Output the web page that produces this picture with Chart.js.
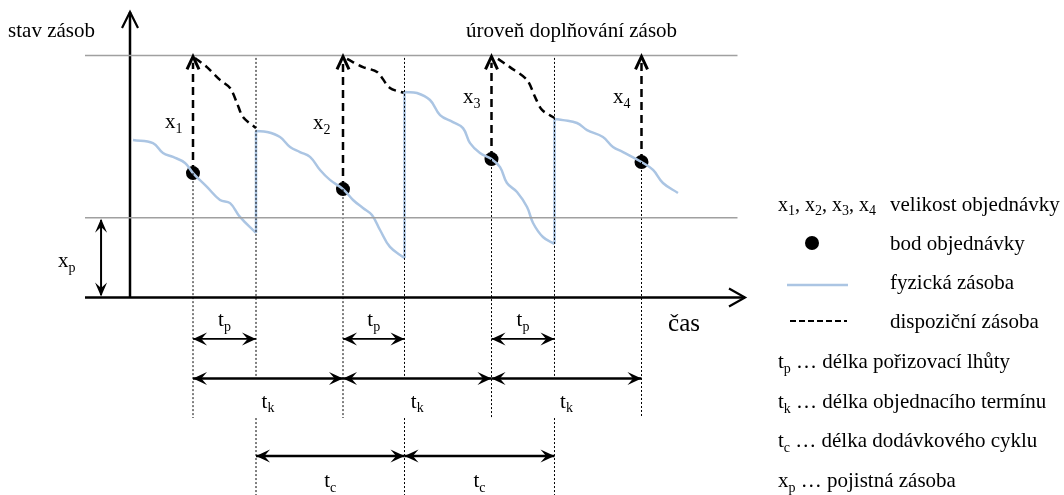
<!DOCTYPE html>
<html>
<head>
<meta charset="utf-8">
<script src="https://cdn.jsdelivr.net/npm/chart.js@4"></script>
<style>
  html, body { margin: 0; padding: 0; background: #fff; }
  #wrap { width: 1064px; height: 495px; }
</style>
</head>
<body>
<div id="wrap"><canvas id="graf"></canvas></div>
<script>
// casy objednavek a dodavek, stav zasoby v bodech objednavky
const casObjednavky = [4.2, 14.2, 24.1, 34.1];
const bodObjednavky = [51.4, 44.8, 57.2, 56.0];
const casDodavky = [8.4, 18.3, 28.3];
const urovenDoplnovani = 100;
const pojistnaZasoba = 33;

// fyzicka zasoba - jednotlive useky mezi dodavkami
const fyzicka1 = [[0.2, 65.1], [1.53, 63.8], [2.2, 59.7], [2.87, 58.1], [3.67, 55.6], [4.2, 51.4],
  [5.13, 45.7], [6.0, 40.3], [6.67, 39.0], [7.33, 33.3], [8.4, 26.7]];
const fyzicka2 = [[8.4, 68.8], [9.13, 68.4], [10.0, 66.3], [10.67, 62.2], [11.33, 60.1], [12.0, 58.1],
  [12.67, 52.7], [13.33, 48.6], [14.2, 44.8], [14.87, 40.3], [15.53, 37.0], [16.13, 34.1],
  [16.67, 27.9], [17.33, 20.9], [18.3, 16.3]];
const fyzicka3 = [[18.3, 84.9], [19.13, 84.5], [20.0, 81.6], [20.67, 75.4], [21.53, 72.5], [22.2, 70.0],
  [22.67, 63.8], [23.33, 59.7], [24.1, 57.2], [24.67, 53.9], [25.13, 47.3], [25.8, 43.6],
  [26.47, 37.4], [26.87, 30.8], [27.53, 25.0], [28.3, 22.1]];
const fyzicka4 = [[28.3, 73.8], [28.87, 73.3], [29.8, 72.1], [30.47, 69.2], [31.53, 66.3], [32.2, 62.2],
  [32.87, 60.1], [34.1, 56.0], [34.87, 52.7], [35.53, 47.3], [36.53, 43.2]];

// dispozicni zasoba
const dispozicni1 = [[4.33, 99], [5.13, 95.2], [6.0, 89.9], [6.67, 86.6], [7.13, 80.4], [7.53, 74.6], [8.4, 70.0]];
const dispozicni2 = [[14.47, 98.6], [15.53, 95.2], [16.47, 93.2], [17.33, 86.6], [18.3, 84.5]];
const dispozicni3 = [[24.53, 98.6], [25.33, 95.2], [26.47, 89.9], [27.0, 82.9], [27.47, 77.5], [28.3, 74.2]];

// radky kot pod osou casu
const radekTp = -17.1, radekTk = -33.5, radekTc = -65.5;

const FONT = '"Liberation Serif", "Times New Roman", serif';
const MODRA = '#abc5e3';

const pts = a => a.map(p => ({ x: p[0], y: p[1] }));
const seg = (x1, y1, x2, y2) => [{ x: x1, y: y1 }, { x: x2, y: y2 }];

function lineDs(data, color, width, dash, tension) {
  return {
    type: 'line', data: data, borderColor: color, borderWidth: width,
    borderDash: dash || [], tension: tension || 0, pointRadius: 0,
    fill: false, borderCapStyle: 'butt'
  };
}

const datasets = [];
// sede hladiny
datasets.push(lineDs(seg(-3, urovenDoplnovani, 40.5, urovenDoplnovani), '#a0a0a0', 1.5));
datasets.push(lineDs(seg(-3, pojistnaZasoba, 40.5, pojistnaZasoba), '#a0a0a0', 1.5));
// teckovane svislice
casObjednavky.forEach((t, i) => {
  datasets.push(lineDs(seg(t, bodObjednavky[i], t, -49.8), '#000', 1, [2, 2]));
});
casDodavky.forEach(t => {
  datasets.push(lineDs(seg(t, urovenDoplnovani - 1, t, radekTk), '#000', 1, [2, 2]));
  datasets.push(lineDs(seg(t, -49.8, t, -82), '#000', 1, [2, 2]));
});
// fyzicka zasoba
[fyzicka1, fyzicka2, fyzicka3, fyzicka4].forEach(f => datasets.push(lineDs(pts(f), MODRA, 2.5, null, 0.4)));
casDodavky.forEach((t, i) => {
  const pred = [fyzicka1, fyzicka2, fyzicka3][i];
  const po = [fyzicka2, fyzicka3, fyzicka4][i];
  datasets.push(lineDs(seg(t, pred[pred.length - 1][1], t, po[0][1]), MODRA, 2.5));
});
// dispozicni zasoba
[dispozicni1, dispozicni2, dispozicni3].forEach(d => datasets.push(lineDs(pts(d), '#000', 2.5, [8, 5], 0.3)));
// velikost objednavky - carkovane sipky
casObjednavky.forEach((t, i) => {
  datasets.push(lineDs(seg(t, bodObjednavky[i], t, urovenDoplnovani - 3), '#000', 2.5, [8, 5]));
});
// osy
datasets.push(lineDs(seg(0, 0, 0, 118), '#000', 2.5));
datasets.push(lineDs(seg(-3, 0, 41, 0), '#000', 2.5));
// pojistna zasoba
datasets.push(lineDs(seg(-1.93, 1, -1.93, pojistnaZasoba - 1), '#000', 2));
// koty
casObjednavky.slice(0, 3).forEach((t, i) => {
  datasets.push(lineDs(seg(t, radekTp, casDodavky[i], radekTp), '#000', 1.8));
  datasets.push(lineDs(seg(t, radekTk, casObjednavky[i + 1], radekTk), '#000', 2.5));
});
casDodavky.slice(0, 2).forEach((t, i) => {
  datasets.push(lineDs(seg(t, radekTc, casDodavky[i + 1], radekTc), '#000', 2.5));
});
// body objednavky
datasets.push({
  type: 'scatter',
  data: casObjednavky.map((t, i) => ({ x: t, y: bodObjednavky[i] })),
  pointRadius: 7, pointBackgroundColor: '#000', pointBorderWidth: 0, showLine: false
});

function head(ctx, x, y, dir, len, half, filled, width) {
  // dir: jednotkovy vektor smeru sipky
  const [dx, dy] = dir;
  const nx = -dy, ny = dx;
  ctx.save();
  ctx.setLineDash([]);
  ctx.fillStyle = '#000';
  ctx.strokeStyle = '#000';
  if (filled) {
    ctx.beginPath();
    ctx.moveTo(x, y);
    ctx.lineTo(x - dx * len + nx * half, y - dy * len + ny * half);
    ctx.lineTo(x - dx * len * 0.6, y - dy * len * 0.6);
    ctx.lineTo(x - dx * len - nx * half, y - dy * len - ny * half);
    ctx.closePath();
    ctx.fill();
  } else {
    ctx.lineWidth = width;
    ctx.lineJoin = 'miter';
    ctx.beginPath();
    ctx.moveTo(x - dx * len + nx * half, y - dy * len + ny * half);
    ctx.lineTo(x, y);
    ctx.lineTo(x - dx * len - nx * half, y - dy * len - ny * half);
    ctx.stroke();
  }
  ctx.restore();
}

function richText(ctx, parts, x, y, size, align) {
  // parts: [[text, sub?], ...]
  const sub = Math.round(size * 0.68);
  let w = 0;
  parts.forEach(p => {
    ctx.font = (p[1] ? sub : size) + 'px ' + FONT;
    w += ctx.measureText(p[0]).width;
  });
  let cx = align === 'center' ? x - w / 2 : (align === 'right' ? x - w : x);
  ctx.textAlign = 'left';
  ctx.textBaseline = 'alphabetic';
  ctx.fillStyle = '#000';
  parts.forEach(p => {
    ctx.font = (p[1] ? sub : size) + 'px ' + FONT;
    ctx.fillText(p[0], cx, y + (p[1] ? size * 0.22 : 0));
    cx += ctx.measureText(p[0]).width;
  });
}

const popisky = {
  id: 'popisky',
  afterDatasetsDraw(chart) {
    const ctx = chart.ctx;
    const X = v => chart.scales.x.getPixelForValue(v);
    const Y = v => chart.scales.y.getPixelForValue(v);
    const F = 21;

    // sipky os
    head(ctx, X(0), Y(118), [0, -1], 16, 8, false, 2.2);
    head(ctx, X(41), Y(0), [1, 0], 16, 9, false, 2.2);
    // sipky objednavek
    casObjednavky.forEach(t => head(ctx, X(t), Y(urovenDoplnovani) + 1, [0, -1], 13, 6, false, 3));
    // pojistna zasoba
    head(ctx, X(-1.93), Y(pojistnaZasoba) + 1, [0, -1], 14, 6, true);
    head(ctx, X(-1.93), Y(0) - 1, [0, 1], 14, 6, true);
    // koty
    const kota = (a, b, r) => {
      head(ctx, X(a), Y(r), [-1, 0], 14, 6.5, true);
      head(ctx, X(b), Y(r), [1, 0], 14, 6.5, true);
    };
    casObjednavky.slice(0, 3).forEach((t, i) => {
      kota(t, casDodavky[i], radekTp);
      kota(t, casObjednavky[i + 1], radekTk);
      richText(ctx, [['t'], ['p', 1]], X((t + casDodavky[i]) / 2), Y(radekTp) - 13, F, 'center');
      richText(ctx, [['t'], ['k', 1]], X((t + casObjednavky[i + 1]) / 2), Y(radekTk) + 29, F, 'center');
    });
    casDodavky.slice(0, 2).forEach((t, i) => {
      kota(t, casDodavky[i + 1], radekTc);
      richText(ctx, [['t'], ['c', 1]], X((t + casDodavky[i + 1]) / 2), Y(radekTc) + 31, F, 'center');
    });

    // popisky grafu
    richText(ctx, [['stav zásob']], X(-8.13), Y(107.6), F);
    richText(ctx, [['úroveň doplňování zásob']], X(36.47), Y(107.6), F, 'right');
    richText(ctx, [['čas']], X(35.87), Y(-13.8), 25);
    richText(ctx, [['x'], ['p', 1]], X(-4.8), Y(12.6), F);
    const xPoz = [[2.33, 70.0], [12.2, 69.6], [22.2, 80.4], [32.2, 80.4]];
    xPoz.forEach((p, i) => richText(ctx, [['x'], [String(i + 1), 1]], X(p[0]), Y(p[1]), F));

    // legenda vpravo
    const L = 778, T = 890;
    richText(ctx, [['x'], ['1', 1], [', x'], ['2', 1], [', x'], ['3', 1], [', x'], ['4', 1]], L, 211, 20);
    richText(ctx, [['velikost objednávky']], T, 211, F);
    ctx.save();
    ctx.fillStyle = '#000';
    ctx.beginPath();
    ctx.arc(812, 243, 7, 0, Math.PI * 2);
    ctx.fill();
    ctx.restore();
    richText(ctx, [['bod objednávky']], T, 250, F);
    ctx.save();
    ctx.strokeStyle = MODRA;
    ctx.lineWidth = 2.5;
    ctx.beginPath(); ctx.moveTo(787, 285); ctx.lineTo(848, 285); ctx.stroke();
    ctx.strokeStyle = '#000';
    ctx.lineWidth = 2;
    ctx.setLineDash([6, 3]);
    ctx.beginPath(); ctx.moveTo(790, 321); ctx.lineTo(847, 321); ctx.stroke();
    ctx.restore();
    richText(ctx, [['fyzická zásoba']], T, 289, F);
    richText(ctx, [['dispoziční zásoba']], T, 328, F);
    richText(ctx, [['t'], ['p', 1], [' … délka pořizovací lhůty']], L, 368, F);
    richText(ctx, [['t'], ['k', 1], [' … délka objednacího termínu']], L, 408, F);
    richText(ctx, [['t'], ['c', 1], [' … délka dodávkového cyklu']], L, 447, F);
    richText(ctx, [['x'], ['p', 1], [' … pojistná zásoba']], L, 487, F);
  }
};

new Chart(document.getElementById('graf'), {
  type: 'line',
  data: { datasets: datasets },
  options: {
    responsive: true,
    maintainAspectRatio: false,
    animation: false,
    layout: { padding: 0, autoPadding: false },
    plugins: { legend: { display: false }, tooltip: { enabled: false } },
    scales: {
      x: { type: 'linear', min: -8.667, max: 62.267, display: false },
      y: { type: 'linear', min: -81.6, max: 122.93, display: false }
    }
  },
  plugins: [popisky]
});
</script>
</body>
</html>
